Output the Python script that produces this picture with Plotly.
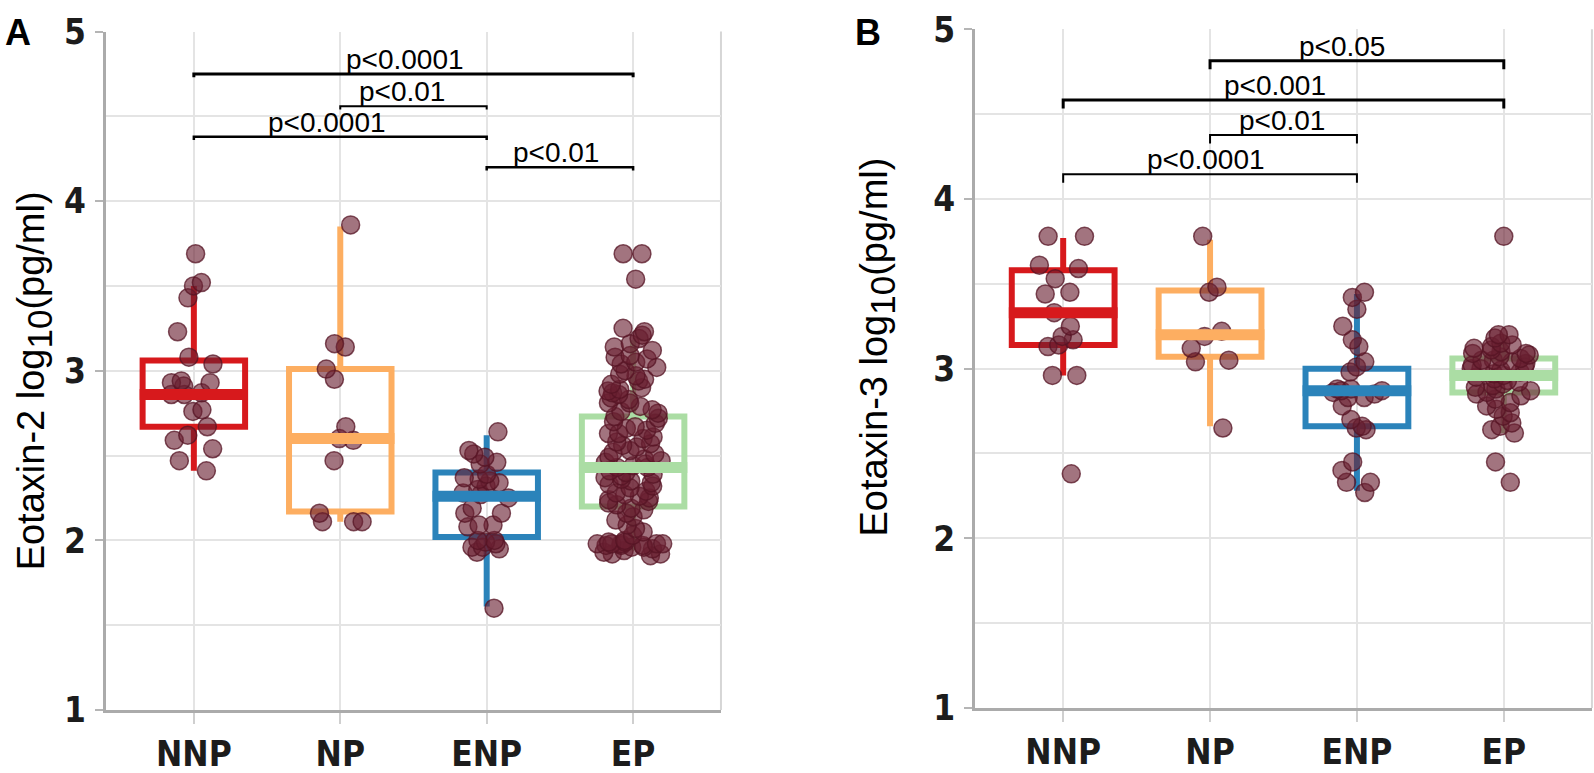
import plotly.graph_objects as go

categories = ["NNP", "NP", "ENP", "EP"]
box_colors = ["#d7191c", "#fdae61", "#2b83ba", "#abdda4"]
y_ticks = [1, 2, 3, 4, 5]

# ---------------- Panel A : Eotaxin-2 ----------------
a_q1 = [2.67, 2.17, 2.02, 2.20]
a_median = [2.86, 2.60, 2.26, 2.43]
a_q3 = [3.06, 3.01, 2.40, 2.73]
a_lower = [2.41, 2.11, 1.61, 1.94]
a_upper = [3.50, 3.85, 2.62, 3.18]

a_nnp = [3.69, 3.50, 3.52, 3.43, 3.23, 3.08, 3.04, 2.93, 2.93, 2.94, 2.86,
         2.87, 2.91, 2.86, 2.76, 2.77, 2.67, 2.62, 2.59, 2.54, 2.47, 2.41]
a_np = [3.86, 3.16, 3.14, 3.01, 2.95, 2.67, 2.60, 2.59, 2.47, 2.16, 2.11,
        2.11, 2.11]
a_enp = [2.64, 2.53, 2.51, 2.45, 2.49, 2.46, 2.39, 2.37, 2.35, 2.36, 2.34,
         2.30, 2.32, 2.28, 2.25, 2.27, 2.19, 2.16, 2.16, 2.09, 2.08, 2.09,
         1.98, 2.00, 1.99, 1.96, 1.96, 1.95, 2.00, 1.93, 1.60]
a_ep = [3.69, 3.69, 3.54,
        3.25, 3.23, 3.21, 3.19, 3.16, 3.14, 3.12, 3.09,
        3.08, 3.07, 3.05, 3.04, 3.02, 3.00, 2.98, 2.97, 2.95, 2.94, 2.92, 2.90,
        2.89, 2.88, 2.87, 2.86, 2.84, 2.83, 2.81, 2.81, 2.79, 2.77, 2.76, 2.75,
        2.73, 2.72, 2.70,
        2.69, 2.67, 2.66, 2.65, 2.63, 2.63, 2.61, 2.60, 2.58, 2.57, 2.56, 2.55,
        2.53, 2.52, 2.51,
        2.49, 2.48, 2.47, 2.46, 2.45, 2.44, 2.43, 2.43, 2.41, 2.40, 2.39, 2.38,
        2.37, 2.36, 2.35, 2.34, 2.33, 2.32, 2.31,
        2.29, 2.28, 2.27, 2.26, 2.25, 2.24, 2.23, 2.22, 2.21, 2.19, 2.18, 2.16,
        2.14, 2.12,
        2.09, 2.07, 2.05, 2.03,
        2.00, 1.99, 1.99, 1.98, 1.98, 1.98, 1.98, 1.98, 1.97, 1.97, 1.97, 1.96,
        1.96, 1.95, 1.94, 1.93, 1.92, 1.92, 1.91]
a_points = [a_nnp, a_np, a_enp, a_ep]
a_jitter = [0.6, 0.55, 0.6, 0.72]

a_br_from = [0, 1, 0, 2]
a_br_to = [3, 2, 2, 3]
a_br_y = [4.75, 4.56, 4.38, 4.20]
a_br_text = ["p<0.0001", "p<0.01", "p<0.0001", "p<0.01"]
a_br_textx = [1.44, 1.42, 0.91, 2.47]
a_br_width = [3, 2, 2.5, 2.5]

# ---------------- Panel B : Eotaxin-3 ----------------
b_q1 = [3.14, 3.07, 2.66, 2.86]
b_median = [3.33, 3.20, 2.87, 2.96]
b_q3 = [3.58, 3.46, 3.00, 3.06]
b_lower = [2.96, 2.66, 2.28, 2.62]
b_upper = [3.77, 3.76, 3.44, 3.20]

b_nnp = [3.78, 3.78, 3.59, 3.61, 3.53, 3.45, 3.44, 3.33, 3.25, 3.17, 3.13,
         3.19, 3.14, 2.96, 2.96, 2.38]
b_np = [3.78, 3.48, 3.45, 3.22, 3.19, 3.05, 3.12, 3.04, 2.65]
b_enp = [3.42, 3.45, 3.35, 3.25, 3.17, 3.13, 3.04, 3.01, 2.98, 2.88, 2.87,
         2.87, 2.83, 2.88, 2.83, 2.78, 2.70, 2.66, 2.64, 2.65, 2.45, 2.40,
         2.33, 2.33, 2.27, 2.86, 2.85]
b_ep = [3.78, 3.20, 3.20, 3.18, 3.15, 3.14, 3.13, 3.12, 3.11, 3.10, 3.09,
        3.09, 3.08, 3.07, 3.06, 3.05, 3.05, 3.04, 3.03, 3.02, 3.01, 3.00,
        3.00, 2.99, 2.98, 2.97, 2.96, 2.95, 2.94, 2.93, 2.92, 2.91, 2.90,
        2.89, 2.88, 2.87, 2.86, 2.85, 2.84, 2.82, 2.80, 2.78, 2.76, 2.74,
        2.72, 2.68, 2.66, 2.64, 2.62, 2.45, 2.33]
b_points = [b_nnp, b_np, b_enp, b_ep]
b_jitter = [0.55, 0.5, 0.55, 0.72]

b_br_from = [1, 0, 1, 0]
b_br_to = [3, 3, 2, 2]
b_br_y = [4.815, 4.583, 4.377, 4.146]
b_br_text = ["p<0.05", "p<0.001", "p<0.01", "p<0.0001"]
b_br_textx = [1.90, 1.44, 1.49, 0.97]
b_br_width = [3, 3, 2, 2]

# ---------------- styles ----------------
BOX_W = 0.7
PT_FILL = "rgba(105,30,48,0.62)"
PT_LINE = "rgba(85,20,36,0.75)"
TICK_FONT = dict(family="Liberation Sans Narrow, DejaVu Sans Condensed, Arial Narrow, sans-serif",
                 size=35, color="#1c1c1c", weight="bold")
TXT_FONT = "Liberation Sans, Arial, sans-serif"

fig = go.Figure()


def add_panel(xa, ya, q1, med, q3, lo, hi, points, jitter):
    for i in range(len(categories)):
        c = box_colors[i]
        fig.add_trace(go.Box(
            x=[i], q1=[q1[i]], median=[med[i]], q3=[q3[i]],
            lowerfence=[lo[i]], upperfence=[hi[i]],
            width=BOX_W, whiskerwidth=0, boxpoints=False,
            line=dict(color=c, width=6), fillcolor="rgba(255,255,255,0)",
            xaxis=xa, yaxis=ya, hoverinfo="skip"))
        half = BOX_W / 2 + 0.02
        fig.add_trace(go.Scatter(
            x=[i - half, i + half], y=[med[i], med[i]], mode="lines",
            line=dict(color=c, width=11), xaxis=xa, yaxis=ya, hoverinfo="skip"))
    for i in range(len(categories)):
        fig.add_trace(go.Box(
            y=points[i], x=[i] * len(points[i]), width=BOX_W,
            boxpoints="all", jitter=jitter[i], pointpos=0,
            line=dict(width=0, color="rgba(0,0,0,0)"),
            fillcolor="rgba(0,0,0,0)",
            marker=dict(size=18, color=PT_FILL, line=dict(color=PT_LINE, width=1.5)),
            xaxis=xa, yaxis=ya, hoverinfo="y"))


add_panel("x", "y", a_q1, a_median, a_q3, a_lower, a_upper, a_points, a_jitter)
add_panel("x2", "y2", b_q1, b_median, b_q3, b_lower, b_upper, b_points, b_jitter)

shapes = []
annotations = []


def add_brackets(xr, yr, frm, to, ys, texts, tx, widths, drop):
    for k in range(len(frm)):
        x0, x1, y = frm[k], to[k], ys[k]
        shapes.append(dict(
            type="path", xref=xr, yref=yr,
            path=f"M {x0},{y - drop} L {x0},{y} L {x1},{y} L {x1},{y - drop}",
            line=dict(color="black", width=widths[k])))
        annotations.append(dict(
            x=tx[k], y=y, xref=xr, yref=yr, text=texts[k], showarrow=False,
            xanchor="center", yanchor="bottom", yshift=-3,
            font=dict(family=TXT_FONT, size=28, color="black")))


add_brackets("x", "y", a_br_from, a_br_to, a_br_y, a_br_text, a_br_textx, a_br_width, 0.02)
add_brackets("x2", "y2", b_br_from, b_br_to, b_br_y, b_br_text, b_br_textx, b_br_width, 0.05)

# right border of each plot area
for xr, yr in (("x domain", "y domain"), ("x2 domain", "y2 domain")):
    shapes.append(dict(type="line", xref=xr, yref=yr, x0=1, x1=1, y0=0, y1=1,
                       line=dict(color="#d6d6d6", width=2), layer="below"))

SUB = '<sub><span style="font-size:35px">10</span></sub>'
annotations += [
    dict(x=0.0215, y=0.507, xref="paper", yref="paper", textangle=-90,
         text="Eotaxin-2 log" + SUB + "(pg/ml)", showarrow=False,
         xanchor="center", yanchor="middle",
         font=dict(family=TXT_FONT, size=38, color="black")),
    dict(x=0.5505, y=0.551, xref="paper", yref="paper", textangle=-90,
         text="Eotaxin-3 log" + SUB + "(pg/ml)", showarrow=False,
         xanchor="center", yanchor="middle",
         font=dict(family=TXT_FONT, size=38, color="black")),
    dict(x=0.0115, y=0.958, xref="paper", yref="paper", text="<b>A</b>",
         showarrow=False, xanchor="center", yanchor="middle",
         font=dict(family=TXT_FONT, size=36, color="black")),
    dict(x=0.5445, y=0.958, xref="paper", yref="paper", text="<b>B</b>",
         showarrow=False, xanchor="center", yanchor="middle",
         font=dict(family=TXT_FONT, size=36, color="black")),
]

xaxis_common = dict(
    range=[-0.6, 3.6], tickmode="array", tickvals=list(range(len(categories))),
    ticktext=categories, ticks="outside", ticklen=11, tickwidth=2,
    tickcolor="#cfcfcf", showgrid=True, gridcolor="#e4e4e4", gridwidth=2,
    showline=True, linecolor="#ababab", linewidth=3, zeroline=False,
    tickfont=TICK_FONT, ticklabelstandoff=0, automargin=False, fixedrange=True)
yaxis_common = dict(
    range=[1, 5], tickmode="array", tickvals=y_ticks, ticks="outside",
    ticklen=8, tickwidth=2, tickcolor="#b5b5b5", showgrid=True,
    gridcolor="#e4e4e4", gridwidth=2,
    minor=dict(dtick=0.5, tick0=1, showgrid=True, gridcolor="#e4e4e4",
               gridwidth=2, ticks=""),
    showline=True, linecolor="#ababab", linewidth=3, zeroline=False,
    tickfont=TICK_FONT, ticklabelstandoff=2, automargin=False, fixedrange=True)

fig.update_layout(
    width=1594, height=773, margin=dict(l=0, r=0, t=0, b=0, autoexpand=False),
    paper_bgcolor="white", plot_bgcolor="white", showlegend=False,
    boxmode="overlay",
    xaxis=dict(domain=[0.0665, 0.4523], anchor="y", **xaxis_common),
    yaxis=dict(domain=[0.0815, 0.9592], anchor="x", **yaxis_common),
    xaxis2=dict(domain=[0.6117, 0.9987], anchor="y2", **xaxis_common),
    yaxis2=dict(domain=[0.0841, 0.9621], anchor="x2", **yaxis_common),
    shapes=shapes, annotations=annotations,
)

fig.write_html("out.html", config={"displayModeBar": False},
               post_script="document.body.style.margin='0';"
                           "document.body.style.overflow='hidden';")
